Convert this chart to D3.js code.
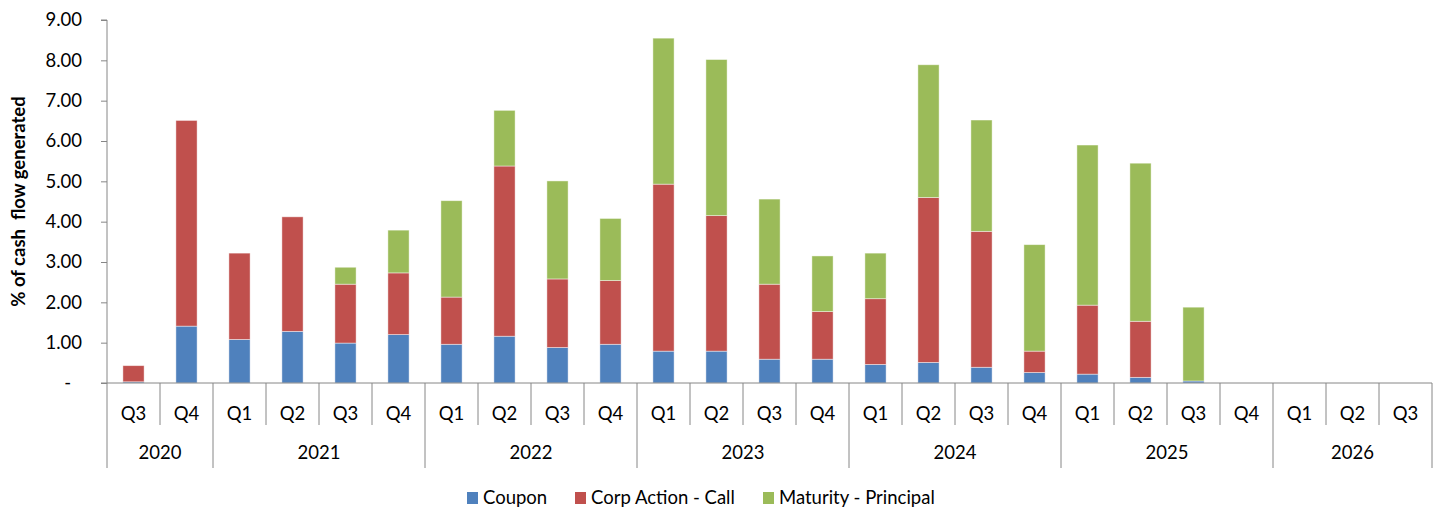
<!DOCTYPE html>
<html>
<head>
<meta charset="utf-8">
<script src="https://cdn.jsdelivr.net/npm/d3@7"></script>
<style>
  html, body { margin: 0; padding: 0; background: #fff; }
  svg { display: block; font-family: Lato, "Open Sans", sans-serif; }
</style>
</head>
<body>
<svg id="chart" width="1438" height="512"></svg>
<script>
// ---- data ----
const years    = ["2020","2020","2021","2021","2021","2021","2022","2022","2022","2022","2023","2023","2023","2023","2024","2024","2024","2024","2025","2025","2025","2025","2026","2026","2026"];
const quarters = ["Q3","Q4","Q1","Q2","Q3","Q4","Q1","Q2","Q3","Q4","Q1","Q2","Q3","Q4","Q1","Q2","Q3","Q4","Q1","Q2","Q3","Q4","Q1","Q2","Q3"];
const coupon   = [0.03,1.41,1.08,1.28,0.99,1.20,0.96,1.16,0.88,0.96,0.79,0.79,0.59,0.59,0.46,0.51,0.39,0.26,0.22,0.14,0.05,0,0,0,0];
const corpCall = [0.40,5.10,2.14,2.84,1.46,1.53,1.17,4.22,1.70,1.58,4.14,3.36,1.86,1.18,1.63,4.09,3.37,0.53,1.71,1.39,0,0,0,0,0];
const maturity = [0,0,0,0,0.42,1.06,2.39,1.38,2.43,1.54,3.62,3.87,2.11,1.38,1.13,3.29,2.76,2.64,3.97,3.92,1.83,0,0,0,0];
const seriesNames = ["Coupon","Corp Action - Call","Maturity - Principal"];
const yTicks = [0,1,2,3,4,5,6,7,8,9];

// ---- layout ----
const colors = ["#4F81BD","#C0504D","#9BBB59"];
const axisColor = "#868686";
const pLeft = 107, pRight = 1432, pTop = 20, pBottom = 383;
const fs = 18.5;

const svg = d3.select("#chart");
const idx = d3.range(quarters.length);
const table = idx.map(i => ({i, s0: coupon[i], s1: corpCall[i], s2: maturity[i]}));

const x = d3.scaleBand().domain(idx).range([pLeft, pRight]).paddingInner(0.6).paddingOuter(0.3);
const y = d3.scaleLinear().domain([0, 9]).range([pBottom, pTop]);

const stacked = d3.stack().keys(["s0","s1","s2"])(table);

// bars
svg.append("g").selectAll("g").data(stacked).join("g")
  .attr("fill", (d, k) => colors[k])
  .selectAll("rect").data(d => d.filter(p => p[1] - p[0] > 0)).join("rect")
  .attr("x", d => x(d.data.i))
  .attr("width", x.bandwidth())
  .attr("y", d => y(d[1]))
  .attr("height", d => y(d[0]) - y(d[1]))
  .attr("stroke", "rgba(255,255,255,0.55)")
  .attr("stroke-width", 0.8);

// y axis
const yAxis = svg.append("g").attr("transform", `translate(${pLeft},0)`)
  .call(d3.axisLeft(y).tickValues(yTicks).tickSize(6).tickPadding(19)
    .tickFormat(d => d === 0 ? "-" : d.toFixed(2)));
yAxis.select(".domain").attr("stroke", axisColor).attr("d", `M-6,${pTop}H0V${pBottom}`);
yAxis.selectAll(".tick line").attr("stroke", axisColor);
yAxis.selectAll(".tick text").attr("font-family", "Lato, sans-serif").attr("font-size", fs).attr("fill", "#000")
  .attr("dx", d => d === 0 ? -11 : 0);

// y label
svg.append("text")
  .attr("transform", `translate(25,${(pTop + pBottom) / 2}) rotate(-90)`)
  .attr("text-anchor", "middle")
  .attr("font-weight", "bold")
  .attr("font-size", 18.5)
  .attr("xml:space", "preserve")
  .style("white-space", "pre")
  .text("% of cash  flow generated");

// x axis line
const g = svg.append("g");
g.append("line").attr("x1", pLeft - 6).attr("x2", pRight).attr("y1", pBottom).attr("y2", pBottom)
  .attr("stroke", axisColor);

const step = x.step();
const boundary = i => pLeft + i * step;

// quarter separators and year separators
idx.concat([quarters.length]).forEach(i => {
  const isYear = i === 0 || i === quarters.length || years[i] !== years[i - 1];
  g.append("line")
    .attr("x1", boundary(i)).attr("x2", boundary(i))
    .attr("y1", pBottom).attr("y2", isYear ? 468 : 425)
    .attr("stroke", axisColor);
});

// quarter labels
g.selectAll("text.q").data(idx).join("text").attr("class", "q")
  .attr("x", i => x(i) + x.bandwidth() / 2)
  .attr("y", 414)
  .attr("dy", "0.35em")
  .attr("text-anchor", "middle")
  .attr("font-size", fs)
  .text(i => quarters[i]);

// year labels
const yearGroups = d3.groups(idx, i => years[i]);
g.selectAll("text.yr").data(yearGroups).join("text").attr("class", "yr")
  .attr("x", d => (boundary(d[1][0]) + boundary(d[1][d[1].length - 1] + 1)) / 2)
  .attr("y", 453)
  .attr("dy", "0.35em")
  .attr("text-anchor", "middle")
  .attr("font-size", fs)
  .text(d => d[0]);

// legend
const legendX = [467, 575, 763];
const lg = svg.append("g");
seriesNames.forEach((name, k) => {
  lg.append("rect").attr("x", legendX[k]).attr("y", 492).attr("width", 11).attr("height", 12).attr("fill", colors[k]);
  lg.append("text").attr("x", legendX[k] + 16).attr("y", 498).attr("dy", "0.35em")
    .attr("font-size", fs).text(name);
});
</script>
</body>
</html>
